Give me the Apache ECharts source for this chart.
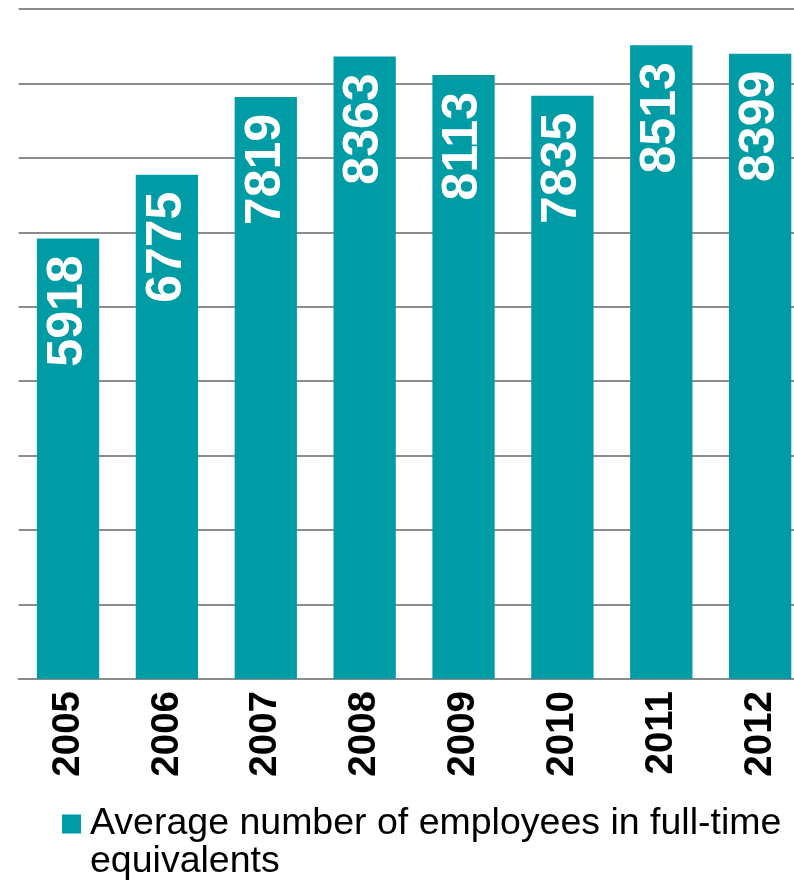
<!DOCTYPE html>
<html><head><meta charset="utf-8">
<script src="https://cdn.jsdelivr.net/npm/echarts@6/dist/echarts.min.js"></script>
<style>html,body{margin:0;padding:0;background:#fff;overflow:hidden;width:794px;height:887px}#c{width:810px;height:887px}</style>
</head><body><div id="c"></div>
<script>
const years = ['2005','2006','2007','2008','2009','2010','2011','2012'];
const employees = [5918, 6775, 7819, 8363, 8113, 7835, 8513, 8399];
const seriesName = 'Average number of employees in full-time equivalents';
const legendText = '\nAverage number of employees in full-time\nequivalents';

const chart = echarts.init(document.getElementById('c'), null, {renderer:'canvas'});
chart.setOption({
  animation: false,
  backgroundColor: '#fff',
  grid: { left: 18.6, top: 9, width: 791, height: 670, containLabel: false },
  legend: {
    data: [seriesName],
    left: 57, top: 762,
    icon: 'rect', itemWidth: 19, itemHeight: 19, itemGap: 0,
    formatter: () => legendText,
    textStyle: { fontFamily: 'Liberation Sans, Arial, sans-serif', fontSize: 37.5, lineHeight: 38, color: '#000', padding: [0,0,0,4] }
  },
  xAxis: {
    type: 'category', data: years,
    axisLine: { lineStyle: { color: '#8c8c8c', width: 2 } },
    axisTick: { show: false },
    axisLabel: { rotate: 90, margin: 12, fontFamily: 'Liberation Sans, Arial, sans-serif', fontWeight: 'bold', fontSize: 38.5, color: '#000' }
  },
  yAxis: {
    type: 'value', min: 0, max: 9000, interval: 1000,
    axisLabel: { show: false }, axisLine: { show: false }, axisTick: { show: false },
    splitLine: { lineStyle: { color: '#8c8c8c', width: 2 } }
  },
  series: [{
    name: seriesName, type: 'bar', data: employees,
    barCategoryGap: '37%',
    itemStyle: { color: '#009ca6' },
    label: {
      show: true, position: 'insideTop', rotate: 90, align: 'right', verticalAlign: 'middle', distance: 17,
      fontFamily: 'Liberation Sans, Arial, sans-serif', fontWeight: 'bold', fontSize: 50, color: '#fff'
    }
  }]
});
</script></body></html>
